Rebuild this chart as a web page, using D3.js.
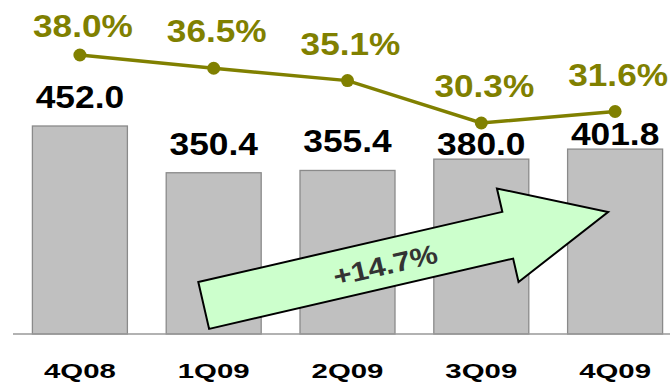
<!DOCTYPE html>
<html>
<head>
<meta charset="utf-8">
<script src="https://cdn.jsdelivr.net/npm/d3@7"></script>
<style>
  html, body { margin: 0; padding: 0; background: #fff; }
  svg { display: block; }
  text { font-family: Arial, "Liberation Sans", sans-serif; font-weight: bold; }
</style>
</head>
<body>
<svg id="chart" width="670" height="382"></svg>
<script>
// ---- data ----
const categories = ["4Q08", "1Q09", "2Q09", "3Q09", "4Q09"];
const barValues = [452.0, 350.4, 355.4, 380.0, 401.8];
const marginValues = [38.0, 36.5, 35.1, 30.3, 31.6];
const growthLabel = "+14.7%";

// ---- layout ----
const W = 670, H = 382;
const baseY = 334;
const svg = d3.select("#chart");

const x = d3.scaleBand().domain(categories).range([13, 682])
  .paddingInner(0.29).paddingOuter(0.145);
const y = d3.scaleLinear().domain([0, 452]).range([baseY, 126]);
const y2 = d3.scaleLinear().domain([30.3, 38.0]).range([123, 55]);
const cx = c => x(c) + x.bandwidth() / 2;

// helper for horizontally stretched text
function stretchedText(g, tx, ty, str, size, sx, fill) {
  return g.append("text")
    .attr("transform", `translate(${tx},${ty}) scale(${sx},1)`)
    .attr("text-anchor", "middle")
    .attr("font-size", size)
    .attr("fill", fill)
    .text(str);
}

// bars
svg.append("g").selectAll("rect").data(categories).join("rect")
  .attr("x", c => x(c))
  .attr("y", (c, i) => y(barValues[i]))
  .attr("width", x.bandwidth())
  .attr("height", (c, i) => baseY - y(barValues[i]))
  .attr("fill", "#c0c0c0")
  .attr("stroke", "#8a8a8a")
  .attr("stroke-width", 1.3);

// baseline axis
const axis = d3.axisBottom(x).tickSize(0).tickFormat("");
const axG = svg.append("g").attr("transform", `translate(0,${baseY})`).call(axis);
axG.select(".domain").attr("d", `M13,0H${W}`).attr("stroke", "#999").attr("stroke-width", 1.6);

// category labels
const catG = svg.append("g");
categories.forEach(c => stretchedText(catG, cx(c), 377.5, c, 21, 1.4, "#000"));

// value labels (avoid the margin line)
const valG = svg.append("g");
const valCap = 22;
categories.forEach((c, i) => {
  const top = y(barValues[i]);
  let base = top - 18;
  if (base - valCap < y2(marginValues[i]) + 8) base = top - 4;
  stretchedText(valG, cx(c), base, barValues[i].toFixed(1), 31, 1.14, "#000");
});

// margin line
const lineG = svg.append("g");
lineG.append("path")
  .datum(categories)
  .attr("d", d3.line().x(c => cx(c)).y((c, i) => y2(marginValues[i])))
  .attr("fill", "none")
  .attr("stroke", "#808000")
  .attr("stroke-width", 3.5);
lineG.selectAll("circle").data(categories).join("circle")
  .attr("cx", c => cx(c))
  .attr("cy", (c, i) => y2(marginValues[i]))
  .attr("r", 6.5)
  .attr("fill", "#808000");
categories.forEach((c, i) => {
  const base = Math.max(y2(marginValues[i]) - 26, 37);
  stretchedText(lineG, cx(c) + 3, base, marginValues[i].toFixed(1) + "%", 32, 1.1, "#808000");
});

// growth arrow annotation (tail near 1Q09 base, tip near 4Q09)
const tail = [cx("1Q09") - 10, y(62)];
const tip = [cx("4Q09") - 7, y(265)];
const dx = tip[0] - tail[0], dy = tip[1] - tail[1];
const len = Math.hypot(dx, dy);
const ang = Math.atan2(dy, dx) * 180 / Math.PI;
const shaftHalf = 24, headLen = 103, headHalf = 48;
const arrowG = svg.append("g").attr("transform", `translate(${tail[0]},${tail[1]}) rotate(${ang})`);
const pts = [
  [0, -shaftHalf], [len - headLen, -shaftHalf], [len - headLen, -headHalf],
  [len, 0], [len - headLen, headHalf], [len - headLen, shaftHalf], [0, shaftHalf]
];
arrowG.append("path")
  .attr("d", d3.line()(pts) + "Z")
  .attr("fill", "#ccffcc")
  .attr("stroke", "#000")
  .attr("stroke-width", 2)
  .attr("stroke-linejoin", "miter");
stretchedText(arrowG, 186, 11, growthLabel, 27, 1.15, "#333333");
</script>
</body>
</html>
